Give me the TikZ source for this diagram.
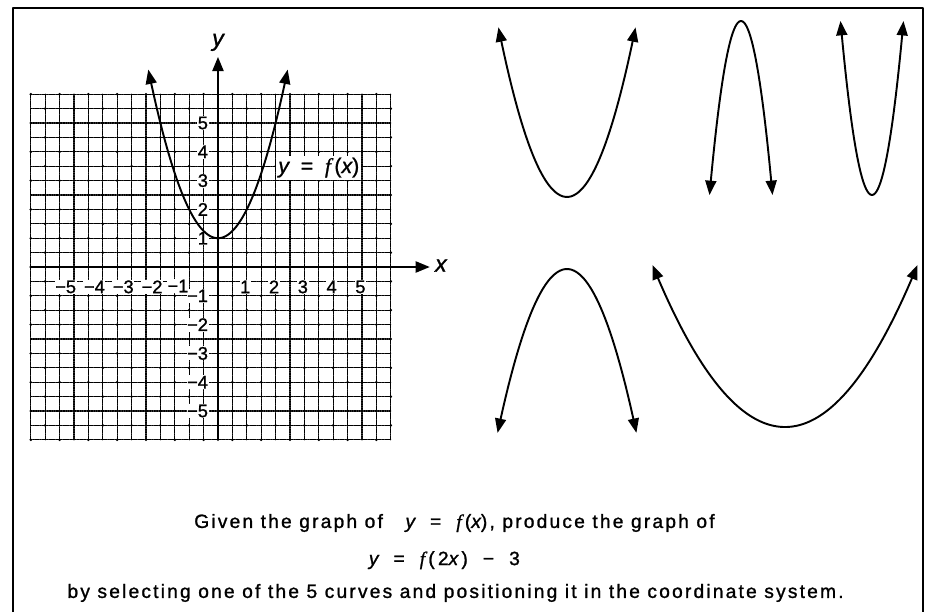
\documentclass[tikz,border=0pt]{standalone}
\usepackage{fontspec}
\setmainfont{Liberation Sans}[RawFeature={embolden=1.2}]
\newfontfamily\capfont{Liberation Sans}[LetterSpace=11.3,RawFeature={embolden=1.2}]
\newfontfamily\varfont{Liberation Sans}[LetterSpace=11.3,RawFeature={embolden=1.2}]
\newfontfamily\ffont{Liberation Serif}[LetterSpace=11.3,RawFeature={embolden=1.2}]
\newcommand{\mv}[1]{{\varfont\itshape #1}}
\newcommand{\mf}{{\ffont\itshape f}}
\usetikzlibrary{arrows.meta}

\begin{document}
\begin{tikzpicture}[>={Triangle[length=0.5cm,width=0.38cm]},line cap=round,line join=round,
  gridline/.style={line width=1.3pt,dash pattern=on 1.3pt off 1pt},
  axis/.style={->,line width=2.6pt},
  curve/.style={<->,line width=1.9pt},
  ticklab/.style={font=\fontsize{18}{18}\selectfont,fill=white,inner sep=0.6pt},
  axislab/.style={font=\fontsize{23}{23}\selectfont},
  question/.style={font=\capfont\fontsize{19}{23}\selectfont,anchor=base}]

  \useasboundingbox (-7.569,-11.979) rectangle (24.722,9.271);

  % ---- frame (open at the bottom) ----
  \draw[line width=2.4pt,line cap=butt] (-7.118,-11.979) -- (-7.118,8.993) -- (24.479,8.993) -- (24.479,-11.979);

  % ---- grid ----
  \draw[gridline] (-6.5,-6) grid[step=0.5] (6,6);
  \foreach \i in {-13,...,12}
    \foreach \j in {-12,...,12} {
      \pgfmathtruncatemacro\s{mod(abs(\i+\j),2)}
      \ifnum\s=1 \fill (\i/2,\j/2) circle (1.4pt); \fi
    }

  % ---- axes ----
  \coordinate (xstart) at (-6.5,0);
  \coordinate (xend) at (7.36,0);
  \coordinate (ystart) at (0,-6);
  \coordinate (yend) at (0,7.3);
  \draw[axis] (xstart) -- (xend);
  \draw[axis] (ystart) -- (yend);
  \node[axislab] (xlab) at (7.74,0.05) {\mv{x}};
  \node[axislab] (ylab) at (0,7.8) {\mv{y}};

  % tick labels
  \foreach \k in {1,...,5} {
    \node[ticklab,anchor=east] (xp\k) at (\k+0.15,-0.69) {\k};
    \node[ticklab,anchor=east] (yp\k) at (-0.32,\k) {\k};
    \node[ticklab,anchor=east] (ym\k) at (-0.32,-\k) {−\k};
  }
  \foreach \k in {2,...,5}
    \node[ticklab,anchor=east] (xm\k) at (-\k+0.1,-0.69) {−\k};
  \node[ticklab,anchor=east] (xm1) at (-1.0,-0.66) {−1};

  % ---- y = f(x) ----
  \draw[curve] plot[domain=-2.42:2.42,samples=60,smooth] (\x,{\x*\x+1});
  \node[fill=white,inner sep=2pt,font=\fontsize{21}{21}\selectfont] (flab) at (3.5,3.45)
    {\mv{y}\ \ =\ \ \mf\,(\mv{x})};

  % ---- the 5 curves ----
  \draw[curve] plot[domain=-2.38:2.38,samples=50,smooth] ({12.118+\x},{2.431+1.04*\x*\x});
  \draw[curve] plot[domain=-1.094:1.094,samples=50,smooth] ({18.16+\x},{8.542-5.05*\x*\x});
  \draw[curve] plot[domain=-1.094:1.094,samples=50,smooth] ({22.708+\x},{2.5+5.05*\x*\x});
  \draw[curve] plot[domain=-2.41:2.41,samples=50,smooth] ({12.118+\x},{-0.069-0.98*\x*\x});
  \draw[curve] plot[domain=-4.6:4.6,samples=60,smooth] ({19.688+\x},{-5.556+0.2658*\x*\x});

  % ---- question ----
  \node[question] (line1) at (8.21,-9.06)
    {Given the graph of\ \ \ \mv{y}\ \ =\ \ \mf\,(\mv{x}), produce the graph of};
  \node[question] (line2) at (7.86,-10.35)
    {\mv{y}\ \ =\ \ \mf\,(\,2\mv{x}\,)\ \ −\ \ 3};
  \node[question] (line3) at (8.25,-11.49)
    {by selecting one of the 5 curves and positioning it in the coordinate system.};
\end{tikzpicture}
\end{document}
